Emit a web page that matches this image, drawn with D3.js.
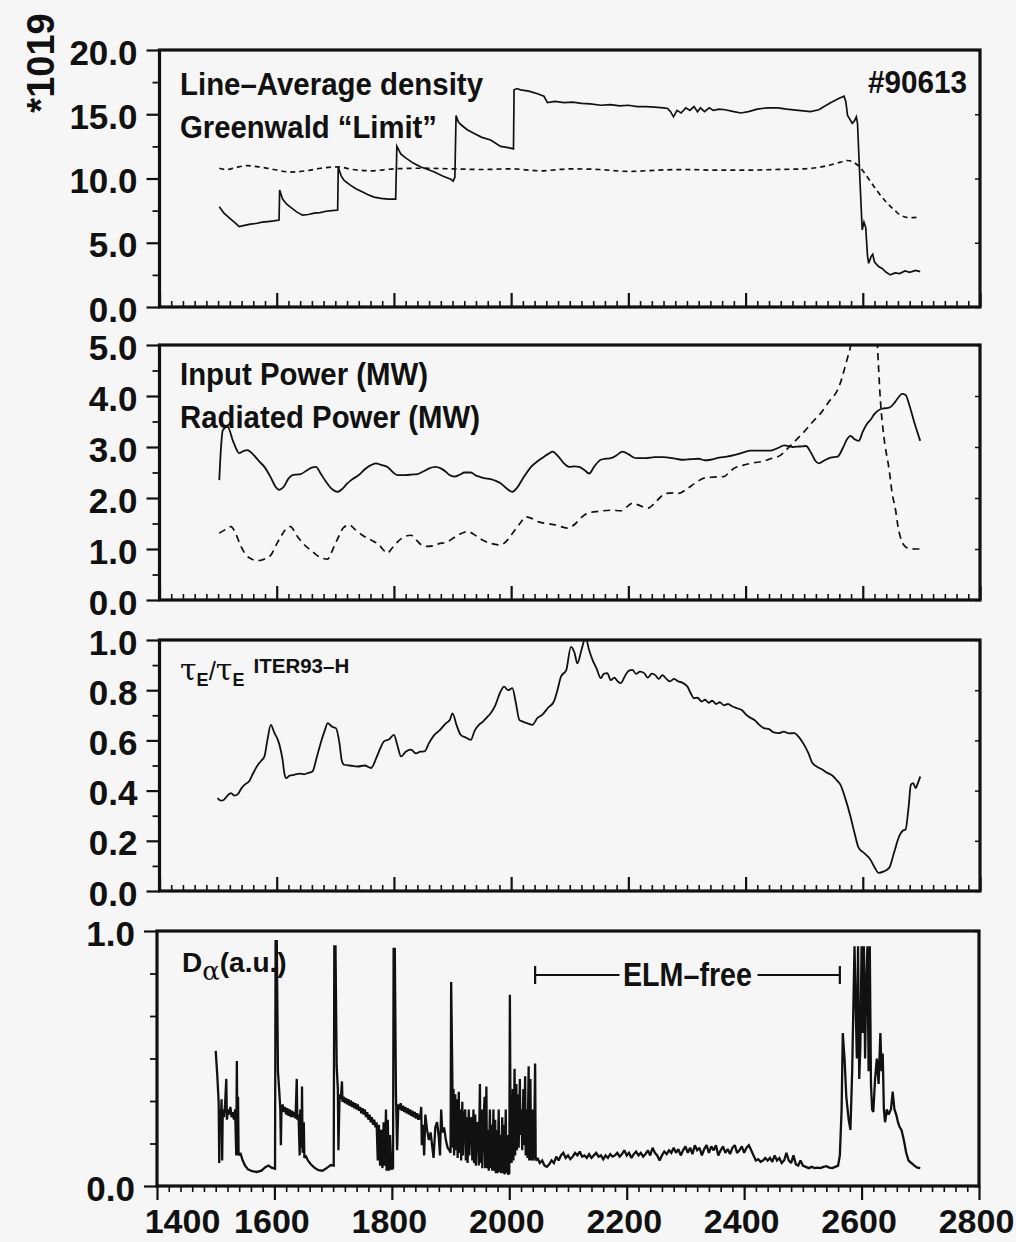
<!DOCTYPE html>
<html><head><meta charset="utf-8">
<script src="https://cdn.jsdelivr.net/npm/d3@7"></script>
<style>
html,body{margin:0;padding:0;background:#f6f6f6;}
svg{display:block;}
text{font-family:"Liberation Sans",Arial,sans-serif;font-weight:bold;fill:#111;}
</style></head>
<body>
<svg id="chart" width="1016" height="1242"></svg>
<script>
// ---------------- DATA ----------------
const xTickLabels = [1400,1600,1800,2000,2200,2400,2600,2800];
const p1Ticks = [0,5,10,15,20];
const p2Ticks = [0,1,2,3,4,5];
const p3Ticks = [0,0.2,0.4,0.6,0.8,1.0];
const p4Ticks = [0,1];
const p1Minor = [2.5,7.5,12.5,17.5];
const p2Minor = [0.5,1.5,2.5,3.5,4.5];
const p3Minor = [0.1,0.3,0.5,0.7,0.9];
const p4Minor = [1/6,2/6,3/6,4/6,5/6];
const elmFree = [2044,2563];

const density = [[1502,7.8],[1510,7.3],[1520,6.9],[1530,6.5],[1536,6.25],[1545,6.35],[1555,6.45],[1565,6.5],[1575,6.6],[1585,6.65],[1595,6.7],[1604,6.77],[1605,9.1],[1610,8.4],[1617,8.0],[1624,7.75],[1634,7.4],[1644,7.15],[1654,7.2],[1664,7.3],[1674,7.35],[1684,7.45],[1694,7.5],[1704,7.55],[1705,10.9],[1710,10.2],[1715,9.85],[1725,9.5],[1735,9.2],[1744,9.0],[1755,8.75],[1766,8.55],[1778,8.45],[1790,8.4],[1803,8.4],[1805,12.5],[1812,11.9],[1820,11.6],[1833,11.2],[1846,10.9],[1858,10.7],[1869,10.5],[1883,10.2],[1897,9.95],[1901,9.8],[1904,10.1],[1906,14.9],[1910,14.4],[1914,14.2],[1925,13.8],[1937,13.5],[1950,13.2],[1965,13.0],[1982,12.5],[1995,12.4],[2004,12.3],[2005,16.9],[2010,17.0],[2016,16.9],[2030,16.8],[2045,16.6],[2056,16.4],[2062,15.9],[2075,16.0],[2090,15.9],[2105,15.95],[2120,15.85],[2135,15.8],[2153,15.7],[2170,15.75],[2185,15.65],[2200,15.7],[2215,15.6],[2230,15.6],[2245,15.55],[2260,15.5],[2267,15.45],[2272,15.2],[2277,14.8],[2283,15.3],[2290,15.1],[2298,15.5],[2305,15.3],[2312,15.6],[2318,15.2],[2323,15.5],[2330,15.2],[2338,15.5],[2345,15.3],[2355,15.4],[2365,15.35],[2380,15.2],[2392,15.1],[2405,15.2],[2420,15.4],[2437,15.5],[2455,15.5],[2470,15.4],[2490,15.3],[2511,15.2],[2525,15.35],[2534,15.6],[2545,15.9],[2558,16.2],[2568,16.4],[2571,16.0],[2574,14.9],[2578,14.6],[2582,14.3],[2586,14.5],[2589,14.8],[2591,14.3],[2595,10.0],[2599,6.0],[2602,6.6],[2605,6.2],[2608,4.0],[2610,3.4],[2614,3.9],[2617,4.1],[2620,3.5],[2627,3.15],[2633,3.0],[2640,2.7],[2647,2.5],[2655,2.65],[2663,2.6],[2672,2.8],[2680,2.7],[2690,2.85],[2698,2.75]];

const greenwald = [[1502,10.8],[1515,10.7],[1530,10.85],[1550,11.0],[1570,10.9],[1595,10.7],[1624,10.5],[1650,10.6],[1675,10.8],[1704,10.9],[1730,10.7],[1760,10.6],[1800,10.75],[1850,10.8],[1900,10.75],[1950,10.7],[2000,10.75],[2050,10.6],[2100,10.75],[2150,10.7],[2200,10.55],[2250,10.65],[2300,10.7],[2350,10.65],[2400,10.65],[2450,10.7],[2500,10.75],[2540,11.0],[2560,11.25],[2574,11.4],[2591,11.05],[2600,10.6],[2608,10.1],[2625,9.0],[2642,8.07],[2655,7.5],[2664,7.15],[2680,6.95],[2698,7.0]];

const inputPower = [[1502,2.35],[1505,3.0],[1508,3.33],[1516,3.4],[1526,3.1],[1536,2.88],[1543,2.92],[1550,2.94],[1560,2.85],[1570,2.72],[1579,2.61],[1590,2.4],[1598,2.22],[1604,2.16],[1612,2.22],[1620,2.38],[1627,2.45],[1634,2.46],[1641,2.47],[1654,2.56],[1661,2.6],[1667,2.61],[1675,2.48],[1684,2.32],[1694,2.18],[1704,2.12],[1712,2.18],[1720,2.28],[1727,2.35],[1740,2.45],[1752,2.58],[1760,2.64],[1769,2.68],[1778,2.65],[1789,2.61],[1797,2.52],[1806,2.45],[1820,2.45],[1830,2.46],[1840,2.47],[1850,2.52],[1860,2.58],[1871,2.61],[1880,2.58],[1888,2.52],[1895,2.45],[1903,2.42],[1913,2.46],[1920,2.5],[1931,2.5],[1940,2.44],[1948,2.41],[1954,2.39],[1965,2.37],[1975,2.33],[1982,2.29],[1993,2.18],[2002,2.12],[2010,2.2],[2020,2.38],[2034,2.61],[2045,2.72],[2055,2.8],[2064,2.87],[2071,2.91],[2080,2.82],[2090,2.68],[2099,2.61],[2108,2.62],[2116,2.61],[2125,2.55],[2133,2.48],[2142,2.62],[2153,2.75],[2162,2.77],[2170,2.78],[2180,2.84],[2190,2.91],[2200,2.86],[2208,2.8],[2215,2.78],[2230,2.78],[2245,2.8],[2260,2.8],[2275,2.78],[2285,2.76],[2295,2.75],[2305,2.76],[2320,2.77],[2330,2.74],[2340,2.75],[2355,2.79],[2368,2.81],[2380,2.84],[2395,2.89],[2409,2.93],[2425,2.93],[2443,2.93],[2455,2.98],[2466,3.03],[2480,3.0],[2492,3.01],[2503,3.02],[2512,2.88],[2519,2.73],[2525,2.68],[2535,2.74],[2545,2.79],[2557,2.81],[2566,2.98],[2573,3.15],[2579,3.22],[2586,3.15],[2593,3.12],[2600,3.3],[2607,3.45],[2613,3.53],[2620,3.65],[2630,3.74],[2638,3.76],[2645,3.77],[2655,3.88],[2662,3.99],[2667,4.04],[2673,4.02],[2680,3.8],[2688,3.48],[2698,3.12]];

const radiatedPower = [[1502,1.31],[1512,1.38],[1522,1.44],[1530,1.3],[1539,1.05],[1548,0.88],[1558,0.8],[1566,0.77],[1573,0.78],[1582,0.82],[1590,0.88],[1600,1.1],[1610,1.3],[1618,1.42],[1624,1.44],[1632,1.3],[1642,1.15],[1650,1.05],[1658,0.98],[1668,0.88],[1678,0.82],[1687,0.8],[1692,0.9],[1698,1.05],[1706,1.25],[1714,1.42],[1724,1.47],[1734,1.38],[1745,1.28],[1755,1.21],[1765,1.15],[1775,1.08],[1782,0.98],[1789,0.92],[1797,1.02],[1807,1.15],[1818,1.24],[1829,1.27],[1838,1.18],[1847,1.08],[1857,1.05],[1866,1.06],[1876,1.1],[1891,1.14],[1902,1.22],[1914,1.3],[1926,1.34],[1940,1.26],[1952,1.17],[1965,1.11],[1982,1.08],[1994,1.18],[2005,1.35],[2015,1.5],[2025,1.63],[2035,1.6],[2045,1.54],[2060,1.5],[2076,1.47],[2085,1.44],[2096,1.41],[2110,1.5],[2120,1.62],[2130,1.7],[2150,1.74],[2170,1.76],[2187,1.75],[2197,1.82],[2207,1.9],[2220,1.85],[2233,1.8],[2245,1.9],[2255,2.02],[2264,2.09],[2276,2.1],[2286,2.09],[2300,2.18],[2315,2.3],[2329,2.39],[2345,2.41],[2363,2.42],[2372,2.5],[2380,2.58],[2395,2.64],[2414,2.69],[2430,2.72],[2445,2.78],[2460,2.84],[2470,2.95],[2483,3.1],[2500,3.3],[2515,3.5],[2528,3.66],[2543,3.9],[2557,4.12],[2563,4.3],[2568,4.5],[2574,4.75],[2579,4.97],[2588,5.8],[2600,6.3],[2612,6.3],[2620,5.8],[2625,4.97],[2630,3.92],[2636,3.2],[2645,2.55],[2650,2.1],[2656,1.76],[2660,1.45],[2664,1.24],[2670,1.08],[2679,1.01],[2690,1.0],[2698,1.0]];

const tauRatio = [[1499,0.37],[1505,0.36],[1510,0.364],[1516,0.38],[1522,0.39],[1528,0.38],[1533,0.384],[1540,0.41],[1545,0.423],[1553,0.437],[1560,0.47],[1568,0.503],[1574,0.52],[1579,0.536],[1584,0.6],[1590,0.662],[1596,0.63],[1602,0.602],[1606,0.57],[1610,0.523],[1613,0.47],[1616,0.45],[1622,0.46],[1630,0.463],[1640,0.468],[1647,0.465],[1653,0.47],[1661,0.476],[1668,0.53],[1675,0.589],[1682,0.64],[1687,0.669],[1694,0.655],[1701,0.649],[1707,0.59],[1711,0.52],[1715,0.503],[1725,0.5],[1738,0.496],[1750,0.5],[1761,0.49],[1770,0.53],[1777,0.57],[1783,0.596],[1792,0.605],[1800,0.622],[1806,0.58],[1812,0.536],[1820,0.555],[1829,0.563],[1838,0.548],[1845,0.555],[1852,0.556],[1860,0.59],[1869,0.622],[1878,0.64],[1889,0.669],[1895,0.68],[1900,0.708],[1907,0.66],[1914,0.622],[1922,0.612],[1931,0.602],[1938,0.64],[1945,0.662],[1952,0.675],[1958,0.69],[1965,0.708],[1973,0.74],[1982,0.795],[1988,0.814],[1995,0.8],[2002,0.808],[2008,0.75],[2014,0.682],[2020,0.675],[2028,0.668],[2036,0.662],[2045,0.69],[2053,0.702],[2063,0.73],[2073,0.755],[2079,0.8],[2085,0.854],[2094,0.88],[2102,0.973],[2108,0.95],[2113,0.907],[2120,0.96],[2127,1.01],[2133,0.96],[2139,0.92],[2146,0.885],[2153,0.848],[2158,0.865],[2164,0.868],[2170,0.84],[2176,0.85],[2182,0.835],[2187,0.828],[2195,0.86],[2201,0.878],[2207,0.881],[2213,0.865],[2220,0.874],[2227,0.868],[2233,0.85],[2240,0.866],[2246,0.86],[2252,0.845],[2258,0.86],[2265,0.845],[2271,0.835],[2278,0.845],[2285,0.835],[2292,0.83],[2301,0.814],[2306,0.79],[2312,0.768],[2318,0.77],[2325,0.755],[2331,0.762],[2337,0.75],[2343,0.758],[2350,0.745],[2356,0.752],[2363,0.74],[2370,0.745],[2378,0.735],[2386,0.728],[2394,0.72],[2402,0.7],[2409,0.689],[2416,0.68],[2422,0.665],[2431,0.649],[2440,0.645],[2448,0.632],[2457,0.629],[2465,0.635],[2474,0.628],[2483,0.629],[2492,0.61],[2500,0.582],[2507,0.55],[2514,0.51],[2522,0.495],[2530,0.485],[2540,0.47],[2548,0.46],[2556,0.44],[2562,0.423],[2570,0.37],[2579,0.297],[2586,0.23],[2593,0.172],[2603,0.15],[2613,0.125],[2620,0.095],[2627,0.072],[2636,0.078],[2645,0.092],[2653,0.15],[2662,0.218],[2668,0.24],[2673,0.245],[2678,0.33],[2682,0.423],[2686,0.43],[2690,0.41],[2694,0.43],[2698,0.456]];

const dAlpha = [[1500,0.53],[1503,0.42],[1505,0.33],[1506,0.09],[1507,0.3],[1509,0.28],[1510,0.34],[1511,0.1],[1512,0.3],[1514,0.27],[1516,0.32],[1518,0.42],[1519,0.26],[1521,0.3],[1523,0.28],[1525,0.31],[1527,0.27],[1529,0.29],[1531,0.26],[1533,0.3],[1535,0.12],[1536,0.49],[1537,0.14],[1538,0.35],[1539,0.12],[1542,0.13],[1546,0.1],[1550,0.08],[1555,0.065],[1562,0.058],[1570,0.055],[1578,0.06],[1585,0.075],[1590,0.08],[1595,0.072],[1601,0.068],
[1602,0.96],[1604,0.96],[1606,0.45],[1608,0.38],[1610,0.3],[1611,0.16],[1612,0.3],[1614,0.32],[1616,0.29],[1618,0.31],[1620,0.28],[1622,0.305],[1624,0.275],[1626,0.3],[1628,0.27],[1630,0.295],[1632,0.27],[1634,0.29],[1636,0.265],[1638,0.42],[1639,0.26],[1641,0.28],[1643,0.12],[1644,0.3],[1646,0.15],[1647,0.39],[1648,0.13],[1650,0.25],[1651,0.11],[1653,0.12],[1657,0.1],[1662,0.085],[1668,0.072],[1675,0.062],[1682,0.06],[1690,0.072],[1696,0.082],[1701,0.08],
[1702,0.94],[1704,0.94],[1706,0.47],[1708,0.38],[1709,0.14],[1711,0.36],[1713,0.34],[1715,0.41],[1716,0.33],[1718,0.35],[1720,0.325],[1722,0.345],[1724,0.32],[1726,0.34],[1728,0.315],[1730,0.335],[1732,0.31],[1734,0.33],[1736,0.305],[1738,0.325],[1740,0.3],[1742,0.32],[1744,0.295],[1746,0.31],[1748,0.285],[1750,0.305],[1752,0.28],[1754,0.3],[1756,0.27],[1758,0.29],[1760,0.26],[1762,0.28],[1764,0.25],[1766,0.27],[1768,0.24],[1770,0.26],[1772,0.23],[1774,0.25],[1776,0.1],[1778,0.24],[1780,0.08],[1782,0.22],[1784,0.07],[1786,0.25],[1788,0.08],[1790,0.3],[1791,0.06],[1793,0.26],[1795,0.06],[1797,0.2],[1799,0.065],[1802,0.07],
[1803,0.93],[1805,0.93],[1807,0.36],[1809,0.14],[1811,0.32],[1813,0.3],[1815,0.325],[1817,0.295],[1819,0.315],[1821,0.29],[1823,0.31],[1825,0.285],[1827,0.305],[1829,0.28],[1831,0.3],[1833,0.275],[1835,0.295],[1837,0.27],[1839,0.29],[1841,0.265],[1843,0.285],[1845,0.26],[1847,0.28],[1848,0.26],[1850,0.31],[1851,0.16],[1853,0.24],[1855,0.12],[1857,0.28],[1860,0.22],[1863,0.18],[1866,0.21],[1869,0.15],[1871,0.11],[1874,0.23],[1877,0.25],[1880,0.19],[1882,0.12],[1884,0.3],[1886,0.21],[1889,0.23],[1892,0.18],[1895,0.15],[1898,0.14],[1900,0.13],
[1901,0.8],[1903,0.43],[1904,0.15],[1905,0.38],[1906,0.12],[1908,0.36],[1909,0.14],[1911,0.34],[1912,0.11],[1914,0.37],[1915,0.13],[1917,0.3],[1918,0.1],[1920,0.33],[1921,0.12],[1923,0.28],[1925,0.3],[1926,0.1],[1928,0.27],[1929,0.09],[1931,0.3],[1932,0.12],[1934,0.26],[1936,0.27],[1937,0.1],[1939,0.3],[1940,0.09],[1942,0.28],[1943,0.08],[1945,0.25],[1947,0.24],[1948,0.08],[1950,0.4],[1951,0.09],[1953,0.3],[1954,0.07],[1956,0.25],[1958,0.35],[1959,0.07],[1961,0.39],[1962,0.07],[1964,0.22],[1965,0.06],[1967,0.3],[1968,0.07],[1970,0.24],[1971,0.06],[1973,0.3],[1974,0.06],[1976,0.26],[1977,0.05],[1979,0.22],[1980,0.05],[1982,0.3],[1983,0.055],[1985,0.2],[1986,0.05],[1988,0.27],[1989,0.05],[1991,0.24],[1992,0.045],[1994,0.3],[1995,0.05],[1997,0.2],[1998,0.045],[2000,0.05],
[2001,0.75],[2002,0.3],[2003,0.35],[2004,0.09],[2006,0.38],[2007,0.1],[2009,0.46],[2010,0.12],[2012,0.4],[2013,0.14],[2015,0.36],[2016,0.15],[2018,0.42],[2019,0.2],[2021,0.3],[2022,0.14],[2024,0.38],[2025,0.16],[2027,0.43],[2028,0.12],[2030,0.3],[2031,0.11],[2033,0.47],[2034,0.1],[2036,0.42],[2037,0.1],[2039,0.3],[2040,0.1],[2042,0.12],[2044,0.48],[2045,0.1],
[2048,0.11],[2052,0.09],[2056,0.1],[2060,0.08],[2064,0.075],[2068,0.085],[2072,0.1],[2076,0.09],[2080,0.115],[2084,0.1],[2088,0.12],[2092,0.13],[2096,0.11],[2100,0.12],[2104,0.105],[2108,0.115],[2112,0.13],[2116,0.12],[2120,0.135],[2124,0.115],[2128,0.12],[2132,0.11],[2136,0.125],[2140,0.11],[2144,0.12],[2148,0.13],[2152,0.115],[2156,0.12],[2160,0.105],[2164,0.12],[2168,0.11],[2172,0.125],[2176,0.115],[2180,0.12],[2184,0.13],[2188,0.115],[2192,0.125],[2196,0.14],[2200,0.12],[2204,0.13],[2208,0.11],[2212,0.125],[2216,0.135],[2220,0.12],[2224,0.13],[2228,0.115],[2232,0.125],[2236,0.14],[2240,0.12],[2244,0.15],[2248,0.13],[2252,0.12],[2256,0.1],[2260,0.12],[2264,0.135],[2268,0.125],[2272,0.14],[2276,0.13],[2280,0.15],[2284,0.13],[2288,0.145],[2292,0.12],[2296,0.14],[2300,0.155],[2304,0.13],[2308,0.15],[2312,0.125],[2316,0.16],[2320,0.14],[2324,0.15],[2328,0.12],[2332,0.145],[2336,0.16],[2340,0.13],[2344,0.155],[2348,0.14],[2352,0.16],[2356,0.12],[2360,0.14],[2364,0.155],[2368,0.13],[2372,0.145],[2376,0.125],[2380,0.15],[2384,0.16],[2388,0.13],[2392,0.14],[2396,0.155],[2400,0.13],[2404,0.15],[2408,0.16],[2412,0.14],[2416,0.12],[2420,0.1],[2424,0.105],[2428,0.095],[2432,0.1],[2436,0.11],[2440,0.1],[2444,0.11],[2448,0.095],[2452,0.12],[2456,0.1],[2460,0.11],[2464,0.09],[2468,0.1],[2472,0.13],[2476,0.1],[2480,0.09],[2484,0.12],[2488,0.085],[2492,0.08],[2496,0.1],[2500,0.08],[2505,0.075],[2510,0.07],[2515,0.075],[2520,0.07],[2525,0.072],[2530,0.07],[2535,0.075],[2540,0.078],[2545,0.072],[2550,0.07],[2555,0.075],[2560,0.08],[2563,0.12],
[2566,0.3],[2568,0.6],[2571,0.5],[2574,0.35],[2578,0.26],[2581,0.22],[2584,0.45],[2586,0.7],[2588,0.94],[2590,0.7],[2592,0.5],[2594,0.94],[2596,0.42],[2598,0.55],[2600,0.94],[2602,0.6],[2604,0.94],[2606,0.5],[2608,0.8],[2610,0.94],[2612,0.45],[2614,0.94],[2616,0.4],[2618,0.3],[2620,0.29],[2623,0.42],[2626,0.5],[2629,0.4],[2632,0.6],[2634,0.45],[2636,0.52],[2638,0.3],[2640,0.25],[2643,0.3],[2646,0.28],[2650,0.3],[2653,0.37],[2656,0.3],[2659,0.28],[2662,0.25],[2665,0.23],[2668,0.22],[2672,0.18],[2676,0.13],[2680,0.1],[2685,0.09],[2690,0.08],[2695,0.072],[2700,0.07]];

// ---------------- DRAW ----------------
const svg = d3.select("#chart");
svg.append("rect").attr("width",1016).attr("height",1242).attr("fill","#f6f6f6");

const panels = [
  {id:"p1", top:50,  bottom:307,  domain:[0,20], ticks:p1Ticks, minor:p1Minor, xr:[159.5,980], outX:false},
  {id:"p2", top:345, bottom:600,  domain:[0,5],  ticks:p2Ticks, minor:p2Minor, xr:[159.5,980], outX:false},
  {id:"p3", top:640, bottom:891,  domain:[0,1],  ticks:p3Ticks, minor:p3Minor, xr:[159.5,980], outX:false},
  {id:"p4", top:931, bottom:1186, domain:[0,1],  ticks:p4Ticks, minor:p4Minor, xr:[157,979],   outX:true}
];
const xMinorTicks = d3.range(1400, 2801, 20);

panels.forEach(p => {
  p.x = d3.scaleLinear().domain([1400,2800]).range(p.xr);
  p.y = d3.scaleLinear().domain(p.domain).range([p.bottom, p.top]);
  const g = svg.append("g").attr("class", p.id);
  p.g = g;
  svg.append("clipPath").attr("id","clip-"+p.id).append("rect")
    .attr("x",p.xr[0]).attr("y",p.top).attr("width",p.xr[1]-p.xr[0]).attr("height",p.bottom-p.top);

  // left axis major
  const yAx = d3.axisLeft(p.y).tickValues(p.ticks).tickSize(13).tickPadding(9).tickFormat(d3.format(".1f"));
  const ya = g.append("g").attr("transform",`translate(${p.xr[0]},0)`).call(yAx);
  ya.select(".domain").remove();
  ya.selectAll("line").attr("stroke","#111").attr("stroke-width",2.2);
  ya.selectAll("text").attr("font-size",35).attr("dy","0.40em").attr("fill","#111")
    .style("font-family","'Liberation Sans',Arial,sans-serif").style("font-weight","bold");
  // left axis minor
  const ym = g.append("g").attr("transform",`translate(${p.xr[0]},0)`)
    .call(d3.axisLeft(p.y).tickValues(p.minor).tickSize(7).tickFormat(""));
  ym.select(".domain").remove();
  ym.selectAll("line").attr("stroke","#111").attr("stroke-width",1.8);
  // right inward ticks
  const yr = g.append("g").attr("transform",`translate(${p.xr[1]},0)`)
    .call(d3.axisRight(p.y).tickValues(p.ticks).tickSize(-5).tickFormat(""));
  yr.select(".domain").remove();
  yr.selectAll("line").attr("stroke","#111").attr("stroke-width",1.5);

  // bottom axis
  const sgn = p.outX ? 1 : -1;
  const xa = g.append("g").attr("transform",`translate(0,${p.bottom})`)
    .call(d3.axisBottom(p.x).tickValues(xTickLabels).tickSize(sgn*14).tickPadding(9)
      .tickFormat(p.outX ? d3.format("d") : ""));
  xa.select(".domain").remove();
  xa.selectAll("line").attr("stroke","#111").attr("stroke-width",2.2);
  if (p.outX) {
    xa.selectAll("text").attr("font-size",34).attr("fill","#111")
      .style("font-family","'Liberation Sans',Arial,sans-serif").style("font-weight","bold")
      .attr("dx", d => d === 1400 ? 25 : -3);
  }
  const xm = g.append("g").attr("transform",`translate(0,${p.bottom})`)
    .call(d3.axisBottom(p.x).tickValues(xMinorTicks.filter(v => !xTickLabels.includes(v)))
      .tickSize(sgn*6).tickFormat(""));
  xm.select(".domain").remove();
  xm.selectAll("line").attr("stroke","#111").attr("stroke-width",1.6);

  // frame
  g.append("rect").attr("x",p.xr[0]).attr("y",p.top)
    .attr("width",p.xr[1]-p.xr[0]).attr("height",p.bottom-p.top)
    .attr("fill","none").attr("stroke","#111").attr("stroke-width",3.2);

  p.data = g.append("g").attr("clip-path",`url(#clip-${p.id})`);
});

function lineFor(p, curve) {
  return d3.line().x(d => p.x(d[0])).y(d => p.y(d[1])).curve(curve || d3.curveLinear);
}
const [P1,P2,P3,P4] = panels;

P1.data.append("path").datum(density).attr("d", lineFor(P1))
  .attr("fill","none").attr("stroke","#111").attr("stroke-width",1.7);
P1.data.append("path").datum(greenwald).attr("d", lineFor(P1, d3.curveMonotoneX))
  .attr("fill","none").attr("stroke","#111").attr("stroke-width",1.7).attr("stroke-dasharray","5,4");

P2.data.append("path").datum(inputPower).attr("d", lineFor(P2, d3.curveMonotoneX))
  .attr("fill","none").attr("stroke","#111").attr("stroke-width",1.8);
P2.data.append("path").datum(radiatedPower).attr("d", lineFor(P2, d3.curveMonotoneX))
  .attr("fill","none").attr("stroke","#111").attr("stroke-width",1.7).attr("stroke-dasharray","7,5");

P3.data.append("path").datum(tauRatio).attr("d", lineFor(P3, d3.curveMonotoneX))
  .attr("fill","none").attr("stroke","#111").attr("stroke-width",1.8);

P4.data.append("path").datum(dAlpha).attr("d", lineFor(P4))
  .attr("fill","none").attr("stroke","#111").attr("stroke-width",2.3).attr("stroke-linejoin","miter").attr("stroke-miterlimit",2);

// ---------------- TEXT ----------------
const lbl = (x,y,t,size,len,anchor) => {
  const e = svg.append("text").attr("x",x).attr("y",y).attr("font-size",size).text(t);
  if (len) e.attr("textLength",len).attr("lengthAdjust","spacingAndGlyphs");
  if (anchor) e.attr("text-anchor",anchor);
  return e;
};
// exponent label
svg.append("text").attr("transform","translate(54,63) rotate(-90)")
  .attr("font-size",38).attr("text-anchor","middle").text("*1019");

lbl(180,95,"Line–Average density",32,303);
lbl(180,138,"Greenwald “Limit”",32,257);
lbl(967,93,"#90613",32,99,"end");

lbl(180,385,"Input Power (MW)",31,248);
lbl(180,428,"Radiated Power (MW)",31,300);

const t3 = svg.append("text").attr("x",180).attr("y",680);
t3.append("tspan").attr("font-size",30).attr("font-weight","normal").style("font-family","'DejaVu Serif',serif").text("τ");
t3.append("tspan").attr("font-size",18).attr("dy",6).text("E");
t3.append("tspan").attr("font-size",26).attr("dy",-6).attr("font-weight","normal").text("/");
t3.append("tspan").attr("font-size",30).attr("font-weight","normal").style("font-family","'DejaVu Serif',serif").text("τ");
t3.append("tspan").attr("font-size",18).attr("dy",6).text("E");
t3.append("tspan").attr("font-size",20.5).attr("dx",9).attr("dy",-13).text("ITER93–H");

const t4 = svg.append("text").attr("x",182).attr("y",972);
t4.append("tspan").attr("font-size",28).text("D");
t4.append("tspan").attr("font-size",26).attr("font-weight","normal").attr("dy",8).style("font-family","'DejaVu Serif',serif").text("α");
t4.append("tspan").attr("font-size",28).attr("dy",-8).text("(a.u.)");

// ELM-free bracket
const yb = 975, xa0 = P4.x(elmFree[0]), xa1 = P4.x(elmFree[1]);
const xmid = (xa0 + xa1) / 2;
const br = svg.append("g").attr("stroke","#111").attr("stroke-width",1.8);
br.append("line").attr("x1",xa0).attr("x2",xmid-68).attr("y1",yb).attr("y2",yb);
br.append("line").attr("x1",xmid+70).attr("x2",xa1).attr("y1",yb).attr("y2",yb);
br.append("line").attr("x1",xa0).attr("x2",xa0).attr("y1",yb-9).attr("y2",yb+9).attr("stroke-width",2.2);
br.append("line").attr("x1",xa1).attr("x2",xa1).attr("y1",yb-9).attr("y2",yb+9).attr("stroke-width",2.2);
lbl(xmid,986,"ELM–free",33,129,"middle");
</script>
</body></html>
